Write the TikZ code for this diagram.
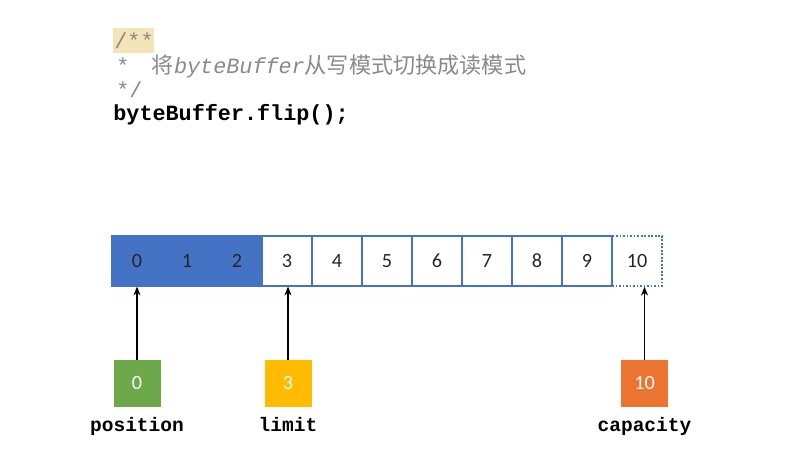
\documentclass[tikz,border=0pt]{standalone}
\usepackage{fontspec}
\setmainfont{Carlito}
\setmonofont{Liberation Mono}
\newfontfamily\cjk{Noto Sans CJK SC}
\usepackage{xcolor}
\usepackage{tikz}
\usetikzlibrary{positioning,arrows.meta}
\definecolor{bufblue}{HTML}{4472C4}
\definecolor{posgreen}{HTML}{6DA94A}
\definecolor{limyellow}{HTML}{FFBB00}
\definecolor{caporange}{HTML}{EC7431}
\definecolor{commentgray}{HTML}{8A8A8A}
\definecolor{markyellow}{HTML}{F3E5B5}
\newcommand{\codefont}{\ttfamily\fontsize{12.4}{14}\selectfont}
\newcommand{\cjkfont}{\cjk\fontsize{12.6}{15}\selectfont}

\begin{document}
\begin{tikzpicture}[
  cellbox/.style={draw=bufblue, line width=0.7pt, minimum width=1cm, minimum height=1cm, inner sep=0pt, text=black!85, font=\fontsize{11.5}{13}\selectfont},
  usedbox/.style={cellbox, fill=bufblue},
  sparebox/.style={cellbox, dash pattern=on 1pt off 1pt, line width=0.9pt},
  markbox/.style={minimum width=0.94cm, minimum height=0.94cm, inner sep=0pt, text=white, font=\fontsize{11.5}{13}\selectfont},
  markname/.style={inner sep=0pt, font=\ttfamily\bfseries\fontsize{11.1}{13}\selectfont},
  codeline/.style={anchor=base west, inner sep=0pt, font=\codefont},
  ptr/.style={-{Stealth[length=5pt,width=4pt]}, line width=0.8pt}
]
  \useasboundingbox (0,0) rectangle (15.7,-9.3);

  % source lines
  \node[fill=markyellow, minimum width=0.82cm, minimum height=0.5cm, inner sep=0pt] (hl) at (2.66,-0.81) {};
  \node[codeline, text=commentgray] (l1) at (2.28,-0.98) {/**};
  \node[codeline, text=commentgray] (l2) at (2.32,-1.48) {*\hspace{0.45cm}{\cjkfont 将}\textit{byteBuffer}{\cjkfont 从写模式切换成读模式}};
  \node[codeline, text=commentgray] (l3) at (2.32,-1.95) {*/};
  \node[codeline, font=\codefont\bfseries] (l4) at (2.26,-2.42) {byteBuffer.flip();};

  % buffer cells
  \node[sparebox] (c10) at (12.74,-5.22) {10};
  \node[usedbox] (c0) at (2.74,-5.22) {0};
  \node[usedbox] (c1) at (3.74,-5.22) {1};
  \node[usedbox] (c2) at (4.74,-5.22) {2};
  \node[cellbox] (c3) at (5.74,-5.22) {3};
  \node[cellbox] (c4) at (6.74,-5.22) {4};
  \node[cellbox] (c5) at (7.74,-5.22) {5};
  \node[cellbox] (c6) at (8.74,-5.22) {6};
  \node[cellbox] (c7) at (9.74,-5.22) {7};
  \node[cellbox] (c8) at (10.74,-5.22) {8};
  \node[cellbox] (c9) at (11.74,-5.22) {9};

  % markers
  \node[markbox, fill=posgreen] (pos) at (2.74,-7.67) {0};
  \node[markbox, fill=limyellow] (lim) at (5.76,-7.67) {3};
  \node[markbox, fill=caporange] (cap) at (12.89,-7.67) {10};
  \node[markname, below=0.2cm of pos] (posname) {position};
  \node[markname, below=0.2cm of lim] (limname) {limit};
  \node[markname, below=0.2cm of cap] (capname) {capacity};

  \draw[ptr] (pos.north) -- (pos.north |- c0.south);
  \draw[ptr] (lim.north) -- (lim.north |- c3.south);
  \draw[ptr] (cap.north) -- (cap.north |- c10.south);
\end{tikzpicture}
\end{document}
